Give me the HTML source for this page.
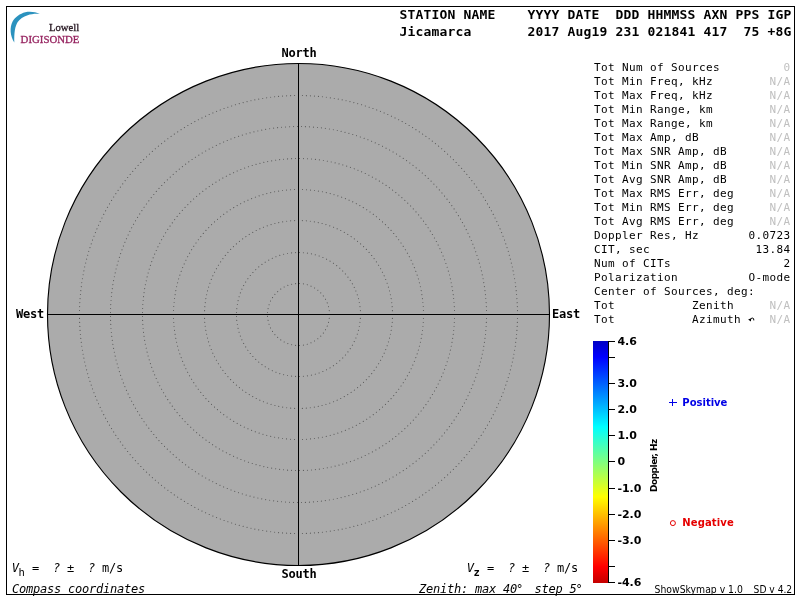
<!DOCTYPE html>
<html lang="en">
<head>
<meta charset="utf-8">
<title>Skymap - Jicamarca</title>
<style>
html,body{margin:0;padding:0;background:#fff;}
body{width:800px;height:600px;overflow:hidden;position:relative;}
svg{position:absolute;left:0;top:0;display:block;}
text{white-space:pre;}
.m{font-family:"DejaVu Sans Mono","Liberation Mono",monospace;font-size:12px;letter-spacing:-0.2246px;fill:#000;}
.mb{font-family:"DejaVu Sans Mono","Liberation Mono",monospace;font-size:12px;font-weight:bold;letter-spacing:-0.2246px;fill:#000;}
.hd{font-family:"DejaVu Sans Mono","Liberation Mono",monospace;font-size:13px;font-weight:bold;letter-spacing:0.1733px;fill:#000;}
.mi{font-family:"DejaVu Sans Mono","Liberation Mono",monospace;font-size:12px;font-style:oblique;letter-spacing:-0.2246px;fill:#000;}
.p{font-family:"DejaVu Sans Mono","Liberation Mono",monospace;font-size:11px;letter-spacing:0.3774px;fill:#000;}
.g{fill:#c0c0c0;}
.cb{font-family:"DejaVu Sans","Liberation Sans",sans-serif;font-size:11px;font-weight:bold;fill:#000;}
.lg{font-family:"DejaVu Sans","Liberation Sans",sans-serif;font-size:10px;font-weight:bold;}
.ft{font-family:"DejaVu Sans","Liberation Sans",sans-serif;font-size:9.6px;fill:#000;}
.dp{font-family:"DejaVu Sans","Liberation Sans",sans-serif;font-size:9px;font-weight:bold;fill:#000;}
</style>
</head>
<body>
<svg width="800" height="600" viewBox="0 0 800 600">
<defs>
<linearGradient id="jet" x1="0" y1="341" x2="0" y2="583" gradientUnits="userSpaceOnUse">
<stop offset="0" stop-color="#0000c4"/>
<stop offset="0.0665" stop-color="#0000ff"/>
<stop offset="0.3554" stop-color="#00ffff"/>
<stop offset="0.6440" stop-color="#ffff00"/>
<stop offset="0.9328" stop-color="#ff0000"/>
<stop offset="1" stop-color="#c40000"/>
</linearGradient>
</defs>
<rect x="0" y="0" width="800" height="600" fill="#fff"/>
<rect x="6.5" y="6.5" width="788" height="588" fill="none" stroke="#000" stroke-width="1"/>
<g id="logo">
<path d="M14.3 42.6 C10.1 36 9.4 27.5 12.7 21.3 C15.2 17.2 20 13.6 25.3 12.3 C30 11.3 35.5 12 39.8 13.8 C35.5 13.4 31 13.9 27.7 15.2 C23.2 16.8 19.8 19 17.7 22 C15 26.2 14 33 14.3 42.6 Z" fill="#2b92be"/>
<text x="49" y="30.7" textLength="30.2" lengthAdjust="spacingAndGlyphs" style="font-family:'Liberation Serif',serif;font-size:11.3px;fill:#2a1b25;stroke:#2a1b25;stroke-width:0.35;">Lowell</text>
<text x="20.6" y="43.4" textLength="58.8" lengthAdjust="spacingAndGlyphs" style="font-family:'Liberation Serif',serif;font-size:11.1px;fill:#962460;stroke:#962460;stroke-width:0.3;">DIGISONDE</text>
</g>
<text class="hd" x="399.6" y="19">STATION NAME    YYYY DATE  DDD HHMMSS AXN PPS IGP</text>
<text class="hd" x="399.6" y="36">Jicamarca       2017 Aug19 231 021841 417  75 +8G</text>
<circle cx="298.5" cy="314.5" r="251" fill="#ababab" stroke="#000" stroke-width="1.12"/>
<circle cx="298.5" cy="314.5" r="31" fill="none" stroke="#5a5a5a" stroke-width="1.12" stroke-linecap="round" pathLength="196" stroke-dasharray="0.01 3.99"/>
<circle cx="298.5" cy="314.5" r="62" fill="none" stroke="#5a5a5a" stroke-width="1.12" stroke-linecap="round" pathLength="388" stroke-dasharray="0.01 3.99"/>
<circle cx="298.5" cy="314.5" r="94" fill="none" stroke="#5a5a5a" stroke-width="1.12" stroke-linecap="round" pathLength="592" stroke-dasharray="0.01 3.99"/>
<circle cx="298.5" cy="314.5" r="125" fill="none" stroke="#5a5a5a" stroke-width="1.12" stroke-linecap="round" pathLength="784" stroke-dasharray="0.01 3.99"/>
<circle cx="298.5" cy="314.5" r="156" fill="none" stroke="#5a5a5a" stroke-width="1.12" stroke-linecap="round" pathLength="980" stroke-dasharray="0.01 3.99"/>
<circle cx="298.5" cy="314.5" r="188" fill="none" stroke="#5a5a5a" stroke-width="1.12" stroke-linecap="round" pathLength="1180" stroke-dasharray="0.01 3.99"/>
<circle cx="298.5" cy="314.5" r="219" fill="none" stroke="#5a5a5a" stroke-width="1.12" stroke-linecap="round" pathLength="1376" stroke-dasharray="0.01 3.99"/>
<line x1="298.5" y1="63.5" x2="298.5" y2="565.5" stroke="#000" stroke-width="1"/>
<line x1="47.5" y1="314.5" x2="549.5" y2="314.5" stroke="#000" stroke-width="1"/>
<text class="mb" x="281.5" y="57">North</text>
<text class="mb" x="281.5" y="578">South</text>
<text class="mb" x="16" y="318">West</text>
<text class="mb" x="552" y="318">East</text>
<text class="p" x="594" y="71">Tot Num of Sources</text><text class="p g" x="783.6" y="71">0</text>
<text class="p" x="594" y="85">Tot Min Freq, kHz</text><text class="p g" x="769.6" y="85">N/A</text>
<text class="p" x="594" y="99">Tot Max Freq, kHz</text><text class="p g" x="769.6" y="99">N/A</text>
<text class="p" x="594" y="113">Tot Min Range, km</text><text class="p g" x="769.6" y="113">N/A</text>
<text class="p" x="594" y="127">Tot Max Range, km</text><text class="p g" x="769.6" y="127">N/A</text>
<text class="p" x="594" y="141">Tot Max Amp, dB</text><text class="p g" x="769.6" y="141">N/A</text>
<text class="p" x="594" y="155">Tot Max SNR Amp, dB</text><text class="p g" x="769.6" y="155">N/A</text>
<text class="p" x="594" y="169">Tot Min SNR Amp, dB</text><text class="p g" x="769.6" y="169">N/A</text>
<text class="p" x="594" y="183">Tot Avg SNR Amp, dB</text><text class="p g" x="769.6" y="183">N/A</text>
<text class="p" x="594" y="197">Tot Max RMS Err, deg</text><text class="p g" x="769.6" y="197">N/A</text>
<text class="p" x="594" y="211">Tot Min RMS Err, deg</text><text class="p g" x="769.6" y="211">N/A</text>
<text class="p" x="594" y="225">Tot Avg RMS Err, deg</text><text class="p g" x="769.6" y="225">N/A</text>
<text class="p" x="594" y="239">Doppler Res, Hz</text><text class="p" x="748.6" y="239">0.0723</text>
<text class="p" x="594" y="253">CIT, sec</text><text class="p" x="755.6" y="253">13.84</text>
<text class="p" x="594" y="267">Num of CITs</text><text class="p" x="783.6" y="267">2</text>
<text class="p" x="594" y="281">Polarization</text><text class="p" x="748.6" y="281">O-mode</text>
<text class="p" x="594" y="295">Center of Sources, deg:</text>
<text class="p" x="594" y="309">Tot</text><text class="p" x="692" y="309">Zenith</text><text class="p g" x="769.6" y="309">N/A</text>
<text class="p" x="594" y="323">Tot</text><text class="p" x="692" y="323">Azimuth</text><path d="M748.1 319.5 L751.3 318.3 L750.9 321.5 Z" fill="#000"/><path d="M750.6 319.4 Q751.6 317.5 752.8 318 Q754 318.6 753.8 320.4" fill="none" stroke="#000" stroke-width="1"/><text class="p g" x="769.6" y="323">N/A</text>
<rect x="593" y="341" width="15" height="242" fill="url(#jet)"/>
<line x1="608.5" y1="341" x2="608.5" y2="583" stroke="#000" stroke-width="1"/>
<line x1="608" y1="341.5" x2="615" y2="341.5" stroke="#000" stroke-width="1"/><text class="cb" x="617.4" y="345">4.6</text>
<line x1="608" y1="357.5" x2="615" y2="357.5" stroke="#000" stroke-width="1"/>
<line x1="608" y1="383.5" x2="615" y2="383.5" stroke="#000" stroke-width="1"/><text class="cb" x="617.4" y="387">3.0</text>
<line x1="608" y1="409.5" x2="615" y2="409.5" stroke="#000" stroke-width="1"/><text class="cb" x="617.4" y="413">2.0</text>
<line x1="608" y1="435.5" x2="615" y2="435.5" stroke="#000" stroke-width="1"/><text class="cb" x="617.4" y="439">1.0</text>
<line x1="608" y1="461.5" x2="615" y2="461.5" stroke="#000" stroke-width="1"/><text class="cb" x="617.4" y="465">0</text>
<line x1="608" y1="488.5" x2="615" y2="488.5" stroke="#000" stroke-width="1"/><text class="cb" x="617.4" y="492">-1.0</text>
<line x1="608" y1="514.5" x2="615" y2="514.5" stroke="#000" stroke-width="1"/><text class="cb" x="617.4" y="518">-2.0</text>
<line x1="608" y1="540.5" x2="615" y2="540.5" stroke="#000" stroke-width="1"/><text class="cb" x="617.4" y="544">-3.0</text>
<line x1="608" y1="566.5" x2="615" y2="566.5" stroke="#000" stroke-width="1"/>
<line x1="608" y1="582.5" x2="615" y2="582.5" stroke="#000" stroke-width="1"/><text class="cb" x="617.4" y="586">-4.6</text>
<text class="dp" transform="translate(657 492) rotate(-90)" textLength="53.3" lengthAdjust="spacing">Doppler, Hz</text>
<path d="M669 402.5 H677 M672.5 399 V406" stroke="#0000e6" stroke-width="1" fill="none"/>
<text class="lg" x="682.3" y="405.7" fill="#0000e6">Positive</text>
<circle cx="672.9" cy="523.1" r="2.5" fill="none" stroke="#e60000" stroke-width="1"/>
<text class="lg" x="682.3" y="525.7" fill="#e60000" style="letter-spacing:0.13px">Negative</text>
<text class="mi" x="11.8" y="572">V</text><text class="m" x="18.6" y="576" style="font-size:10.5px">h</text><text class="m" x="32" y="572">=</text><text class="mi" x="53" y="572">?</text><text class="m" x="67" y="572">±</text><text class="mi" x="88" y="572">?</text><text class="m" x="102" y="572">m/s</text>
<text class="mi" x="466.8" y="572">V</text><text class="mb" x="473.6" y="576" style="font-size:10.5px">z</text><text class="m" x="487" y="572">=</text><text class="mi" x="508" y="572">?</text><text class="m" x="522" y="572">±</text><text class="mi" x="543" y="572">?</text><text class="m" x="557" y="572">m/s</text>
<text class="mi" x="12" y="593">Compass coordinates</text>
<text class="mi" x="419" y="593">Zenith: max 40</text><text class="mi" x="516" y="593">°</text><text class="mi" x="534.6" y="593">step 5</text><text class="mi" x="575.6" y="593">°</text>
<text class="ft" x="654.6" y="593" textLength="88.3" lengthAdjust="spacingAndGlyphs">ShowSkymap v 1.0</text><text class="ft" x="753.6" y="593" textLength="38.6" lengthAdjust="spacingAndGlyphs">SD v 4.2</text>
</svg>
</body>
</html>
